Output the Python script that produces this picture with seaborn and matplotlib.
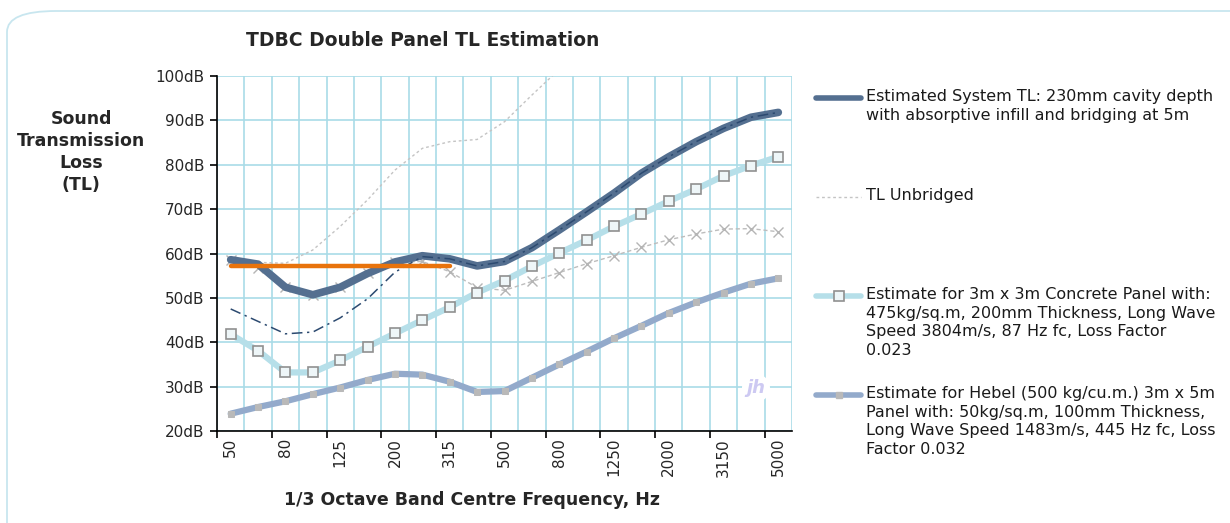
import numpy as np
import pandas as pd
import seaborn as sns
import matplotlib.pyplot as plt
from matplotlib.lines import Line2D
from matplotlib.patches import FancyBboxPatch

# 1/3 octave band centre frequencies (category axis)
bands = ["50", "63", "80", "100", "125", "160", "200", "250", "315", "400", "500",
         "630", "800", "1000", "1250", "1600", "2000", "2500", "3150", "4000", "5000"]

system_tl = [58.6, 57.6, 52.4, 50.7, 52.4, 55.5, 58.1, 59.5, 58.8, 57.2, 58.2,
             61.3, 65.3, 69.4, 73.6, 78.1, 81.8, 85.2, 88.2, 90.7, 91.8]
bridged_tl = [47.5, 44.7, 41.9, 42.3, 45.5, 49.8, 55.8, 59.3, 58.8, 57.2, 58.2,
              61.3, 65.3, 69.4, 73.6, 78.1, 81.8, 85.2, 88.2, 90.7, 91.8]
unbridged_tl = [58.6, 58.0, 57.8, 60.8, 66.1, 72.1, 78.8, 83.7, 85.2, 85.7, 89.7,
                95.7, 101.5, 105.0, 108.0, 111.0, 113.5, 115.5, 117.0, 118.0, 118.5]
mass_tl = [58.5, 56.8, 52.4, 50.7, 52.4, 55.5, 58.0, 58.2, 55.9, 52.3, 51.7,
           53.7, 55.7, 57.7, 59.5, 61.4, 63.1, 64.4, 65.5, 65.6, 64.9]
concrete_tl = [41.8, 38.1, 33.2, 33.2, 35.9, 39.0, 42.0, 45.0, 47.9, 51.2, 53.9,
               57.1, 60.1, 63.0, 66.1, 68.9, 71.8, 74.5, 77.5, 79.8, 81.8]
hebel_tl = [23.9, 25.4, 26.7, 28.3, 29.8, 31.5, 32.9, 32.7, 31.1, 28.8, 29.0,
            32.0, 35.0, 37.9, 40.9, 43.7, 46.6, 49.0, 51.2, 53.2, 54.4]
target_bands = bands[:9]
target_tl = [57.1] * 9

yticks = [20, 30, 40, 50, 60, 70, 80, 90, 100]

legend_labels = [
    "Estimated System TL: 230mm cavity depth\nwith absorptive infill and bridging at 5m",
    "TL Unbridged",
    "Estimate for 3m x 3m Concrete Panel with:\n475kg/sq.m, 200mm Thickness, Long Wave\n"
    "Speed 3804m/s, 87 Hz fc, Loss Factor\n0.023",
    "Estimate for Hebel (500 kg/cu.m.) 3m x 5m\nPanel with: 50kg/sq.m, 100mm Thickness,\n"
    "Long Wave Speed 1483m/s, 445 Hz fc, Loss\nFactor 0.032",
]


def main():
    sns.set_style("white")
    plt.rcParams["font.family"] = ["DejaVu Sans"]

    W, H = 1230, 523
    fig = plt.figure(figsize=(W / 100, H / 100), dpi=100)
    ax = fig.add_axes([217 / W, 1 - 431 / H, (792 - 217) / W, (431 - 76) / H])

    df = pd.DataFrame({
        "pos": np.arange(len(bands)),
        "system": system_tl,
        "bridged": bridged_tl,
        "unbridged": unbridged_tl,
        "mass": mass_tl,
        "concrete": concrete_tl,
        "hebel": hebel_tl,
    })
    tgt = pd.DataFrame({"pos": np.arange(len(target_bands)), "tl": target_tl})

    grid_c = "#a9dbe7"
    for b in np.arange(-0.5, len(bands), 1.0):
        ax.axvline(b, color=grid_c, lw=1.2, zorder=0)
    ax.yaxis.grid(True, color=grid_c, lw=1.2, zorder=0)
    ax.set_axisbelow(True)

    sns.lineplot(data=df, x="pos", y="unbridged", ax=ax, color="#c4c4c4",
                 lw=1.0, linestyle=(0, (2, 2)), zorder=2)
    sns.lineplot(data=df, x="pos", y="mass", ax=ax, color="#bdbdbd", lw=1.0,
                 linestyle=(0, (3, 2)), marker="x", markersize=7, mew=1.0,
                 markeredgecolor="#b5b5b5", zorder=2)
    sns.lineplot(data=df, x="pos", y="hebel", ax=ax, color="#93aacb", lw=4.5,
                 marker="s", markersize=4.5, markerfacecolor="#b9b9b9",
                 markeredgecolor="#b9b9b9", zorder=3)
    sns.lineplot(data=df, x="pos", y="concrete", ax=ax, color="#b6dfe9", lw=4.5,
                 marker="s", markersize=7, markerfacecolor="#eef6f8",
                 markeredgecolor="#909090", mew=1.2, zorder=4)
    sns.lineplot(data=df, x="pos", y="system", ax=ax, color="#546f90", lw=5.5,
                 solid_capstyle="round", solid_joinstyle="round", zorder=5)
    sns.lineplot(data=df, x="pos", y="bridged", ax=ax, color="#2c4a70", lw=1.1,
                 linestyle=(0, (7, 3, 1.5, 3)), zorder=6)
    sns.lineplot(data=tgt, x="pos", y="tl", ax=ax, color="#e8730c", lw=3.2,
                 zorder=7)

    ax.set_xlim(-0.5, len(bands) - 0.5)
    ax.set_ylim(20, 100)
    ax.set_yticks(yticks)
    ax.set_yticklabels([f"{v}dB" for v in yticks])
    ax.set_xticks(np.arange(0, len(bands), 2))
    ax.set_xticklabels(bands[::2], rotation=90)
    ax.set_xticks(np.arange(-0.5, len(bands) - 1, 2), minor=True)
    ax.tick_params(axis="x", which="major", length=0, pad=5, labelsize=11)
    ax.tick_params(axis="x", which="minor", length=5, width=1.2, color="black",
                   direction="out", bottom=True)
    ax.tick_params(axis="y", length=5, width=1.2, color="black", direction="out",
                   left=True, pad=4, labelsize=11)
    ax.set_xlabel("")
    ax.set_ylabel("")
    for s in ["top", "right"]:
        ax.spines[s].set_visible(False)
    for s in ["left", "bottom"]:
        ax.spines[s].set_color("black")
        ax.spines[s].set_linewidth(1.2)

    # outer rounded frame
    frame = FancyBboxPatch((7 / W, -0.05), 1.2, 1 - 11 / H + 0.05,
                           boxstyle="round,pad=0,rounding_size=0.04",
                           transform=fig.transFigure, fill=False,
                           edgecolor="#c8e6ef", lw=1.3, zorder=-1)
    fig.patches.append(frame)

    fig.text(423 / W, 1 - 40 / H, "TDBC Double Panel TL Estimation",
             ha="center", va="center", fontsize=13.5, fontweight="bold")
    fig.text(81 / W, 1 - 152 / H, "Sound\nTransmission\nLoss\n(TL)",
             ha="center", va="center", fontsize=12.5, fontweight="bold",
             linespacing=1.3)
    fig.text(472 / W, 1 - 500 / H, "1/3 Octave Band Centre Frequency, Hz",
             ha="center", va="center", fontsize=12.5, fontweight="bold")

    fig.text(756 / W, 1 - 388 / H, "jh", ha="center", va="center",
             fontsize=13, fontweight="bold", fontstyle="italic", color="#cdc9f2",
             bbox=dict(boxstyle="circle,pad=0.25", fc="white", ec="none"))

    # legend (handles aligned with first text line)
    handles = [
        dict(color="#546f90", lw=4.0),
        dict(color="#c4c4c4", lw=1.0, linestyle=(0, (2, 2))),
        dict(color="#b6dfe9", lw=4.0),
        dict(color="#93aacb", lw=4.0),
    ]
    marks = [None, None,
             dict(marker="s", markersize=6.5, markerfacecolor="#eef6f8",
                  markeredgecolor="#909090", mew=1.2),
             dict(marker="s", markersize=5, markerfacecolor="#b9b9b9",
                  markeredgecolor="#b9b9b9")]
    rows = [98, 197, 296, 395]
    for lab, hd, mk, yy in zip(legend_labels, handles, marks, rows):
        yf = 1 - yy / H
        fig.add_artist(Line2D([816 / W, 861 / W], [yf, yf],
                              transform=fig.transFigure,
                              solid_capstyle="round", **hd))
        if mk is not None:
            fig.add_artist(Line2D([838.5 / W], [yf], transform=fig.transFigure,
                                  linestyle="none", **mk))
        fig.text(866 / W, 1 - (yy - 9) / H, lab, ha="left", va="top",
                 fontsize=11.5, color="#1a1a1a", linespacing=1.3)

    fig.savefig("out.png", dpi=100, facecolor="white")


if __name__ == "__main__":
    main()
